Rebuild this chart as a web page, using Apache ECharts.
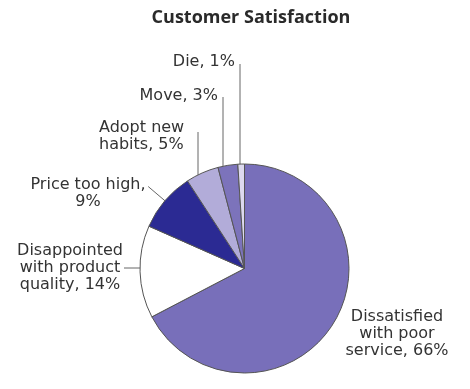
<!DOCTYPE html>
<html><head><meta charset="utf-8">
<script src="https://cdn.jsdelivr.net/npm/echarts@6/dist/echarts.min.js"></script>
<style>html,body{margin:0;padding:0;background:#fff}#c{width:470px;height:389px}</style>
</head><body><div id="c"></div>
<script>
// ---- data ----
const chartTitle = 'Customer Satisfaction';
const categories = ['Dissatisfied with poor service', 'Disappointed with product quality', 'Price too high', 'Adopt new habits', 'Move', 'Die'];
const values = [66, 14, 9, 5, 3, 1];
const labelPrefix = ['Dissatisfied\nwith poor\nservice, ', 'Disappointed\nwith product\nquality, ', 'Price too high,\n', 'Adopt new\nhabits, ', 'Move, ', 'Die, '];

// ---- styling / placement ----
const colors = ['#786fba', '#ffffff', '#2b2a93', '#b2acd9', '#7c73bb', '#dcd9ee'];
const CX = 244.5, CY = 268.5, R = 104.5;
const labelPlace = [
  {x: 397, y: 334, align: 'center', leader: 'none'},
  {x: 70, y: 268, align: 'center', leader: 'h', lx: 124},
  {x: 88, y: 193, align: 'center', leader: 'radial', len: 22},
  {x: 99, y: 136.5, align: 'left', leader: 'v', lx: 198, ly: 132},
  {x: 218, y: 95.5, align: 'right', leader: 'v', lx: 223, ly: 97},
  {x: 235, y: 62, align: 'right', leader: 'v', lx: 240, ly: 64}
];

const total = values.reduce((a, b) => a + b, 0);
function midAngle(i) { // degrees clockwise from 12 o'clock
  let s = 0; for (let k = 0; k < i; k++) s += values[k];
  return (s + values[i] / 2) / total * 360;
}
function polar(deg, rr) {
  const a = deg * Math.PI / 180;
  return [CX + rr * Math.sin(a), CY - rr * Math.cos(a)];
}

const chart = echarts.init(document.getElementById('c'), null, {renderer: 'canvas'});
chart.setOption({
  animation: false,
  backgroundColor: '#ffffff',
  title: {
    text: chartTitle, left: 251, top: 9, padding: 0, textAlign: 'center',
    textStyle: {fontFamily: 'Open Sans', fontSize: 18, fontWeight: 'bold', color: '#2a2a2a'}
  },
  series: [{
    type: 'pie',
    center: [CX, CY],
    radius: R,
    startAngle: 90,
    clockwise: true,
    avoidLabelOverlap: false,
    itemStyle: {borderColor: '#555', borderWidth: 1},
    label: {
      show: true, position: 'outside', width: 160, overflow: 'none',
      fontFamily: 'DejaVu Sans', fontSize: 16, lineHeight: 17, color: '#333',
      formatter: p => labelPrefix[p.dataIndex] + p.value + '%'
    },
    labelLine: {show: true, length: 10, length2: 5, lineStyle: {color: '#666', width: 1}},
    labelLayout: function (params) {
      const i = params.dataIndex, L = labelPlace[i];
      const out = {x: L.x, y: L.y, align: L.align, verticalAlign: 'middle'};
      if (L.leader === 'h') {
        const ex = CX - Math.sqrt(R * R - (L.y - CY) * (L.y - CY));
        out.labelLinePoints = [[L.lx, L.y], [ex, L.y]];
      } else if (L.leader === 'radial') {
        const m = midAngle(i);
        out.labelLinePoints = [polar(m, R), polar(m, R + L.len)];
      } else if (L.leader === 'v') {
        const ey = CY - Math.sqrt(R * R - (L.lx - CX) * (L.lx - CX));
        out.labelLinePoints = [[L.lx, L.ly], [L.lx, ey]];
      }
      return out;
    },
    data: categories.map((c, i) => ({
      name: c, value: values[i],
      itemStyle: {color: colors[i]},
      labelLine: {show: i !== 0}
    }))
  }]
});
</script></body></html>
